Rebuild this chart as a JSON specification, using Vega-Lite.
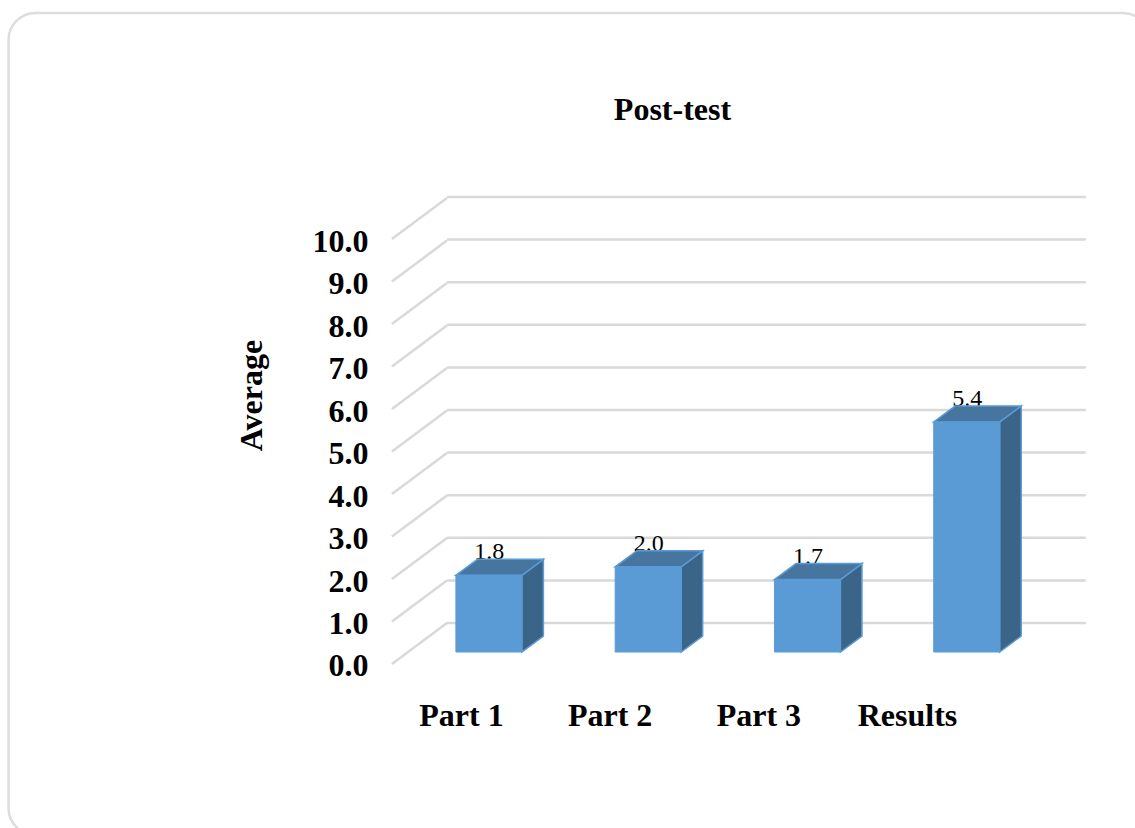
{
"$schema":"https://vega.github.io/schema/vega-lite/v6.json",
"width":1135,"height":828,"padding":0,"autosize":{"type":"none"},
"background":"white",
"config":{"view":{"stroke":null},"font":"Liberation Serif"},
"title":{"text":"Post-test","font":"Liberation Serif","fontSize":32,"fontWeight":"bold","color":"#000000","anchor":"middle","dx":105,"offset":-127},
"datasets":{
"bars":[{"part":"Part 1","value":1.8,"idx":0},{"part":"Part 2","value":2.0,"idx":1},{"part":"Part 3","value":1.7,"idx":2},{"part":"Results","value":5.4,"idx":3}],
"ticks":[{"tick":0},{"tick":1},{"tick":2},{"tick":3},{"tick":4},{"tick":5},{"tick":6},{"tick":7},{"tick":8},{"tick":9},{"tick":10}],
"card":[{"left":-2.809,"right":4.357,"bottom":-4.296,"top":15.0}]
},
"resolve":{"scale":{"x":"independent","y":"independent"}},
"layer":[
{"data":{"name":"card"},
"mark":{"type":"rect","cornerRadius":27,"fill":null,"stroke":"#DDDDDD","strokeWidth":2.5,"clip":false},
"encoding":{
"x":{"field":"left","type":"quantitative","axis":null,"scale":{"domain":[-2.8625,4.2637],"nice":false,"zero":false}},
"x2":{"field":"right"},
"y":{"field":"bottom","type":"quantitative","axis":null,"scale":{"domain":[-4.131,15.305],"nice":false,"zero":false}},
"y2":{"field":"top"}}},
{"data":{"name":"ticks"},
"transform":[{"calculate":"datum.tick+0.681","as":"wall"},{"calculate":"-0.0565","as":"wallLeft"},{"calculate":"3.9548","as":"wallRight"}],
"mark":{"type":"rule","color":"#D9D9D9","strokeWidth":2.5},
"encoding":{
"x":{"field":"wallLeft","type":"quantitative","axis":null,"scale":{"domain":[-2.8625,4.2637],"nice":false,"zero":false}},
"x2":{"field":"wallRight"},
"y":{"field":"wall","type":"quantitative","axis":null,"scale":{"domain":[-4.131,15.305],"nice":false,"zero":false}}}},
{"data":{"name":"ticks"},
"transform":[{"calculate":"datum.tick+0.965","as":"back"},{"calculate":"-0.4018","as":"frontLeft"},{"calculate":"-0.0565","as":"wallLeft"}],
"mark":{"type":"rule","color":"#D9D9D9","strokeWidth":2.5},
"encoding":{
"x":{"field":"frontLeft","type":"quantitative","axis":null,"scale":{"domain":[-2.8625,4.2637],"nice":false,"zero":false}},
"x2":{"field":"wallLeft"},
"y":{"field":"tick","type":"quantitative","scale":{"domain":[-3.859,15.624],"nice":false,"zero":false},
"axis":{"orient":"left","offset":-368,"values":[0,1,2,3,4,5,6,7,8,9,10],"format":".1f","domain":false,"ticks":false,"grid":false,"labelPadding":0,"labelOffset":2,"labelFont":"Liberation Serif","labelFontSize":32,"labelFontWeight":"bold","labelColor":"#000000","labelBaseline":"middle","labelOverlap":false,"labelBound":false,"title":"Average","titleFont":"Liberation Serif","titleFontSize":32,"titleFontWeight":"bold","titleColor":"#000000","titleAngle":270,"titleAlign":"center","titleBaseline":"middle","titleX":-117,"titleY":395}},
"y2":{"field":"back"}}},
{"data":{"name":"bars"},
"mark":{"type":"point","opacity":0},
"encoding":{
"x":{"field":"part","type":"nominal","sort":null,"scale":{"type":"point","range":[461,907],"padding":0},
"axis":{"orient":"bottom","offset":-113,"title":null,"domain":false,"ticks":false,"grid":false,"labelAngle":0,"labelPadding":0,"labelFont":"Liberation Serif","labelFontSize":32,"labelFontWeight":"bold","labelColor":"#000000","labelOverlap":false,"labelBound":false,"labelBaseline":"middle"}},
"y":{"field":"value","type":"quantitative","axis":null,"scale":{"domain":[-4.131,15.305],"nice":false,"zero":false}}}},
{"data":{"name":"bars"},
"transform":[{"calculate":"datum.idx+0.21","as":"mid"},{"calculate":"datum.value+0.375","as":"labelY"}],
"mark":{"type":"text","font":"Liberation Serif","fontSize":24,"color":"#000000","baseline":"alphabetic","align":"center"},
"encoding":{
"x":{"field":"mid","type":"quantitative","axis":null,"scale":{"domain":[-2.8625,4.2637],"nice":false,"zero":false}},
"y":{"field":"labelY","type":"quantitative","axis":null,"scale":{"domain":[-4.131,15.305],"nice":false,"zero":false}},
"text":{"field":"value","type":"quantitative","format":".1f"}}},
{"data":{"name":"bars"},
"transform":[{"calculate":"[0,1]","as":"t"},{"flatten":["t"]},{"calculate":"datum.idx+0.4143+0.135*datum.t","as":"sx"},{"calculate":"0.3756*datum.t","as":"sy0"},{"calculate":"datum.value+0.3756*datum.t","as":"sy1"}],
"mark":{"type":"area","fill":"#3A6588","stroke":"#5B9BD5","strokeWidth":1.5,"orient":"vertical"},
"encoding":{
"x":{"field":"sx","type":"quantitative","axis":null,"scale":{"domain":[-2.8625,4.2637],"nice":false,"zero":false}},
"y":{"field":"sy1","type":"quantitative","axis":null,"stack":null,"scale":{"domain":[-4.131,15.305],"nice":false,"zero":false}},
"y2":{"field":"sy0"},
"detail":{"field":"part"}}},
{"data":{"name":"bars"},
"transform":[{"calculate":"[0,1]","as":"t"},{"flatten":["t"]},{"calculate":"datum.idx+0.135*datum.t","as":"tx0"},{"calculate":"datum.idx+0.4143+0.135*datum.t","as":"tx1"},{"calculate":"datum.value+0.3756*datum.t","as":"ty"}],
"mark":{"type":"area","fill":"#4675A0","stroke":"#5B9BD5","strokeWidth":1.5,"orient":"horizontal"},
"encoding":{
"x":{"field":"tx0","type":"quantitative","axis":null,"stack":null,"scale":{"domain":[-2.8625,4.2637],"nice":false,"zero":false}},
"x2":{"field":"tx1"},
"y":{"field":"ty","type":"quantitative","axis":null,"scale":{"domain":[-4.131,15.305],"nice":false,"zero":false}},
"detail":{"field":"part"}}},
{"data":{"name":"bars"},
"transform":[{"calculate":"datum.idx+0.4143","as":"right"},{"calculate":"0","as":"base"}],
"mark":{"type":"rect","fill":"#5B9BD5","stroke":"#5B9BD5","strokeWidth":1},
"encoding":{
"x":{"field":"idx","type":"quantitative","axis":null,"scale":{"domain":[-2.8625,4.2637],"nice":false,"zero":false}},
"x2":{"field":"right"},
"y":{"field":"value","type":"quantitative","axis":null,"scale":{"domain":[-4.131,15.305],"nice":false,"zero":false}},
"y2":{"field":"base"}}}
]
}
